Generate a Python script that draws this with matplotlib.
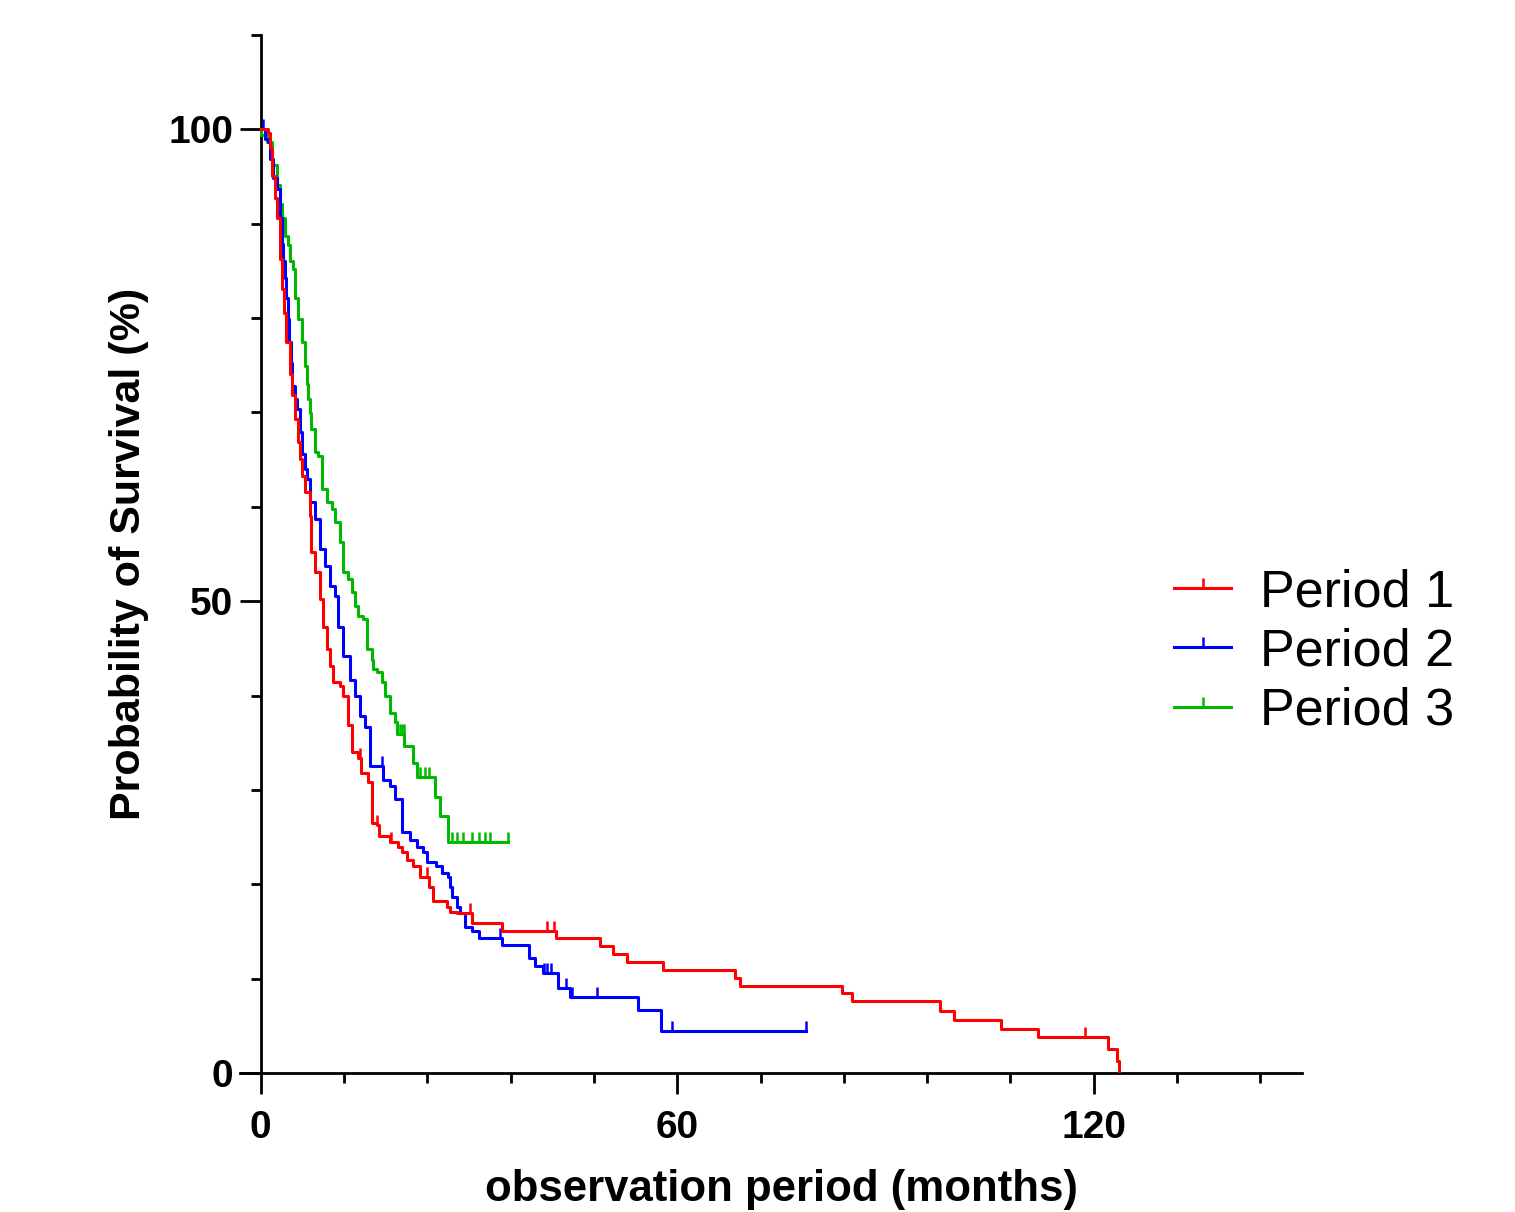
import numpy as np
import matplotlib.pyplot as plt
from matplotlib.lines import Line2D
from matplotlib.path import Path

plt.rcParams['font.family'] = ['Liberation Sans', 'DejaVu Sans']

# Period 1 (red): event times (months) and survival (%) after each step
p1_time = [0, 1.0, 1.3, 1.6, 2.0, 2.4, 2.7, 3.0, 3.3, 3.7, 4.2, 4.5, 4.9, 5.3, 5.6, 5.9, 6.3, 7.1,
           7.2, 7.8, 8.5, 8.9, 9.5, 9.9, 10.4, 11.4, 11.8, 12.5, 13.1, 14.0, 14.5, 15.4, 16.0, 16.8,
           17.1, 18.6, 19.7, 20.4, 21.0, 21.9, 22.9, 24.3, 24.8, 26.8, 27.2, 28.2, 30.4, 34.7, 42.5,
           48.8, 50.8, 52.7, 58.0, 68.3, 69.1, 83.8, 85.1, 97.9, 99.9, 106.7, 111.9, 122.0, 123.3,
           123.6]
p1_surv = [100, 99.6, 98.0, 95.1, 92.7, 90.6, 86.3, 83.1, 80.5, 77.5, 74.1, 71.8, 69.3, 66.9, 65.1,
           63.3, 61.6, 59.0, 55.2, 53.1, 50.2, 47.3, 44.9, 43.1, 41.4, 41.0, 39.9, 36.9, 34.0, 33.4,
           31.8, 30.8, 26.5, 26.3, 25.1, 24.5, 24.0, 23.4, 22.6, 21.9, 20.8, 19.7, 18.2, 17.6, 17.1,
           17.0, 15.9, 15.1, 14.3, 13.5, 12.6, 11.8, 10.9, 10.1, 9.2, 8.5, 7.6, 6.6, 5.6, 4.7, 3.8,
           2.5, 1.3, 0]
p1_cens = [14.3, 16.8, 18.7, 23.9, 30.1, 41.3, 42.3, 118.8]
p1_end = 123.6

# Period 2 (blue)
p2_time = [0, 0.6, 1.0, 1.3, 1.7, 2.3, 2.7, 3.0, 3.2, 3.5, 3.7, 3.9, 4.0, 4.3, 4.5, 4.9, 5.2, 5.6,
           6.0, 6.3, 6.6, 7.1, 7.8, 8.5, 9.2, 9.9, 10.7, 11.1, 11.8, 12.8, 13.5, 14.3, 15.0, 15.7,
           17.6, 18.6, 19.3, 20.3, 20.4, 21.5, 22.5, 23.3, 23.9, 25.3, 26.1, 26.9, 27.2, 27.6, 28.2,
           28.7, 29.4, 30.4, 31.5, 34.7, 38.7, 39.5, 40.6, 42.8, 44.5, 54.3, 57.7]
p2_surv = [100, 99.0, 98.7, 96.9, 94.8, 93.7, 90.6, 87.9, 86.0, 84.2, 82.1, 79.9, 77.5, 75.2, 72.8,
           71.4, 70.4, 67.9, 65.6, 64.0, 63.0, 60.5, 58.7, 55.5, 53.7, 51.6, 50.5, 47.3, 44.2, 41.7,
           39.9, 37.8, 36.7, 32.5, 31.1, 30.4, 29.0, 28.2, 25.5, 24.7, 24.0, 23.4, 22.4, 21.9, 21.2,
           20.8, 19.7, 18.7, 17.6, 17.0, 15.5, 15.0, 14.3, 13.6, 12.2, 11.3, 10.6, 9.0, 8.0, 6.7,
           4.4]
p2_cens = [0.3, 17.4, 34.4, 40.8, 41.3, 41.8, 43.9, 44.9, 48.4, 59.3, 78.6]
p2_end = 78.6

# Period 3 (green)
p3_time = [0, 0.1, 0.9, 1.6, 2.4, 2.7, 3.0, 3.5, 3.9, 4.2, 4.6, 4.9, 5.3, 5.9, 6.3, 6.6, 6.8, 7.1,
           7.3, 7.8, 8.2, 8.8, 9.5, 10.2, 10.7, 11.4, 11.8, 12.5, 13.1, 13.5, 14.0, 14.7, 15.3, 16.0,
           16.1, 16.8, 17.4, 17.9, 18.6, 19.3, 19.6, 20.7, 21.9, 22.5, 25.1, 25.8, 26.9]
p3_surv = [100, 99.4, 98.7, 96.2, 94.1, 92.1, 90.6, 88.7, 87.7, 86.0, 85.2, 82.1, 79.9, 77.5, 74.9,
           73.0, 71.4, 69.9, 68.3, 65.8, 65.4, 61.9, 60.5, 59.8, 58.4, 56.3, 53.1, 52.3, 51.0, 49.5,
           48.4, 48.1, 44.9, 43.8, 42.8, 42.5, 41.4, 39.9, 38.2, 37.2, 35.9, 34.6, 32.9, 31.4, 29.3,
           27.2, 24.5]
p3_cens = [20.0, 20.3, 20.6, 22.9, 23.6, 24.3, 27.6, 28.2, 29.1, 30.4, 31.5, 32.3, 33.0, 35.6]
p3_end = 35.6

labels = ['Period 1', 'Period 2', 'Period 3']
colors = ['#ff0000', '#0000ff', '#00b800']

# censor mark: short vertical stroke pointing up from the curve
tick_mark = Path([(0, 0), (0, 1)])

fig = plt.figure(figsize=(15.15, 12.12), dpi=100)
ax = fig.add_axes([0.1584, 0.1147, 0.701, 0.8564])

series = [(p1_time, p1_surv, p1_cens, p1_end),
          (p2_time, p2_surv, p2_cens, p2_end),
          (p3_time, p3_surv, p3_cens, p3_end)]

# draw green first, red on top
for i in [2, 1, 0]:
    t, s, c, end = series[i]
    x = list(t) + [end]
    y = list(s) + [s[-1]]
    ax.step(x, y, where='post', color=colors[i], lw=2.2, zorder=3 + (2 - i))
    idx = np.searchsorted(t, c, side='right') - 1
    ax.plot(c, np.array(s)[idx], linestyle='none', marker=tick_mark, ms=14, mew=1.8,
            mfc='none', color=colors[i], zorder=3 + (2 - i))

ax.set_xlim(-3, 150)
ax.set_ylim(0, 110)
ax.spines['top'].set_visible(False)
ax.spines['right'].set_visible(False)
ax.spines['left'].set_position(('data', 0))
for sp in ['left', 'bottom']:
    ax.spines[sp].set_linewidth(2.0)

ax.set_xticks([0, 60, 120])
ax.set_xticks(np.arange(0, 150, 12), minor=True)
ax.set_yticks([0, 50, 100])
ax.set_yticks(np.arange(0, 111, 10), minor=True)
ax.tick_params(which='major', length=15, width=2.0, labelsize=28)
ax.tick_params(which='minor', length=7.5, width=2.0)
ax.tick_params(axis='x', which='major', pad=12)
ax.tick_params(axis='y', which='major', pad=5)
for lab in ax.get_xticklabels() + ax.get_yticklabels():
    lab.set_fontweight('bold')

ax.set_xlabel('observation period (months)', fontsize=31.5, fontweight='bold', labelpad=16)
ax.xaxis.label.set_x(0.51)
ax.set_ylabel('Probability of Survival (%)', fontsize=31, fontweight='bold', labelpad=14)

handles = [Line2D([0], [0], color=colors[i], lw=2.2, marker=tick_mark, ms=14, mew=1.8,
                  mfc='none') for i in range(3)]
fig.legend(handles, labels, loc='center left', bbox_to_anchor=(0.775, 0.462),
           frameon=False, fontsize=37.5, handlelength=1.1, handletextpad=0.55,
           labelspacing=0.2, borderpad=0, borderaxespad=0, numpoints=1)

plt.savefig('out.png', dpi=100)
plt.close()
